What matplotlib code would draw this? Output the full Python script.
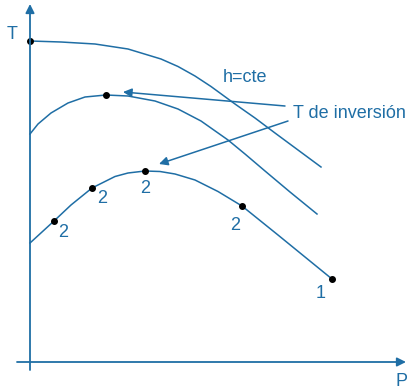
import matplotlib
matplotlib.use("Agg")
import matplotlib.pyplot as plt

plt.rcParams['font.family'] = ['Liberation Sans', 'DejaVu Sans']

azul = '#1f6ea5'

# isoentálpica superior (parte del eje T)
p_sup = [0, 31, 65, 98, 131, 148, 165, 181, 205, 225, 245, 268, 291]
t_sup = [321, 320, 318, 313, 303, 295.5, 286, 275.5, 258, 244, 229, 212, 195]

# isoentálpica intermedia
p_med = [0, 8, 21, 38, 55, 76, 98, 125, 148, 171, 198, 215, 235, 260, 287]
t_med = [228, 238, 249, 259, 265, 267, 266, 261, 253, 241, 222, 208, 191, 170, 148]

# isoentálpica inferior con los estados 2 y el estado 1
p_inf = [0, 24, 41, 62, 85, 98, 115, 130, 145, 165, 188, 212, 248, 302]
t_inf = [119, 141, 157, 174, 185.5, 189, 191, 190.5, 188, 182, 170.5, 156, 127, 83]

p_estados = [24, 62, 115, 212, 302]
t_estados = [141, 174, 191, 156, 83]
etiquetas = ['2', '2', '2', '2', '1']
desplaz = [(9, -11), (10, -10), (0, -17), (-7, -19), (-11, -15)]

# punto inicial sobre el eje y punto de inversión de la curva intermedia
p_marca = [0, 76]
t_marca = [321, 267]

fig = plt.figure(figsize=(4.10, 3.89), dpi=100)
ax = fig.add_axes([0, 0, 1, 1])
ax.set_xlim(-30, 380)
ax.set_ylim(-27, 362)
ax.axis('off')

# ejes con flecha
flecha = dict(arrowstyle='-|>', color=azul, lw=1.3, mutation_scale=13,
              shrinkA=0, shrinkB=0)
ax.annotate('', xy=(376, 0), xytext=(-13, 0), arrowprops=flecha)
ax.annotate('', xy=(0, 358), xytext=(0, -8), arrowprops=flecha)
ax.text(-17.5, 327.5, 'T', color=azul, fontsize=13, ha='center', va='center')
ax.text(371.5, -19, 'P', color=azul, fontsize=13, ha='center', va='center')

for p, t in [(p_sup, t_sup), (p_med, t_med), (p_inf, t_inf)]:
    ax.plot(p, t, color=azul, lw=1.1, solid_joinstyle='round')

ax.plot(p_estados, t_estados, 'o', color='black', ms=4)
ax.plot(p_marca, t_marca, 'o', color='black', ms=4)

for p, t, txt, d in zip(p_estados, t_estados, etiquetas, desplaz):
    ax.annotate(txt, xy=(p, t), xytext=d, textcoords='offset pixels',
                color=azul, fontsize=13, ha='center', va='center')

ax.text(215, 285, 'h=cte', color=azul, fontsize=13, ha='center', va='center')
ax.text(263, 249, 'T de inversión', color=azul, fontsize=13,
        ha='left', va='center')

flecha_inv = dict(arrowstyle='-|>', color=azul, lw=1.1, mutation_scale=13,
                  shrinkA=0, shrinkB=0)
ax.annotate('', xy=(93, 270), xytext=(255, 256), arrowprops=flecha_inv)
ax.annotate('', xy=(129, 198), xytext=(258, 241), arrowprops=flecha_inv)

fig.savefig('out.png', dpi=100)
